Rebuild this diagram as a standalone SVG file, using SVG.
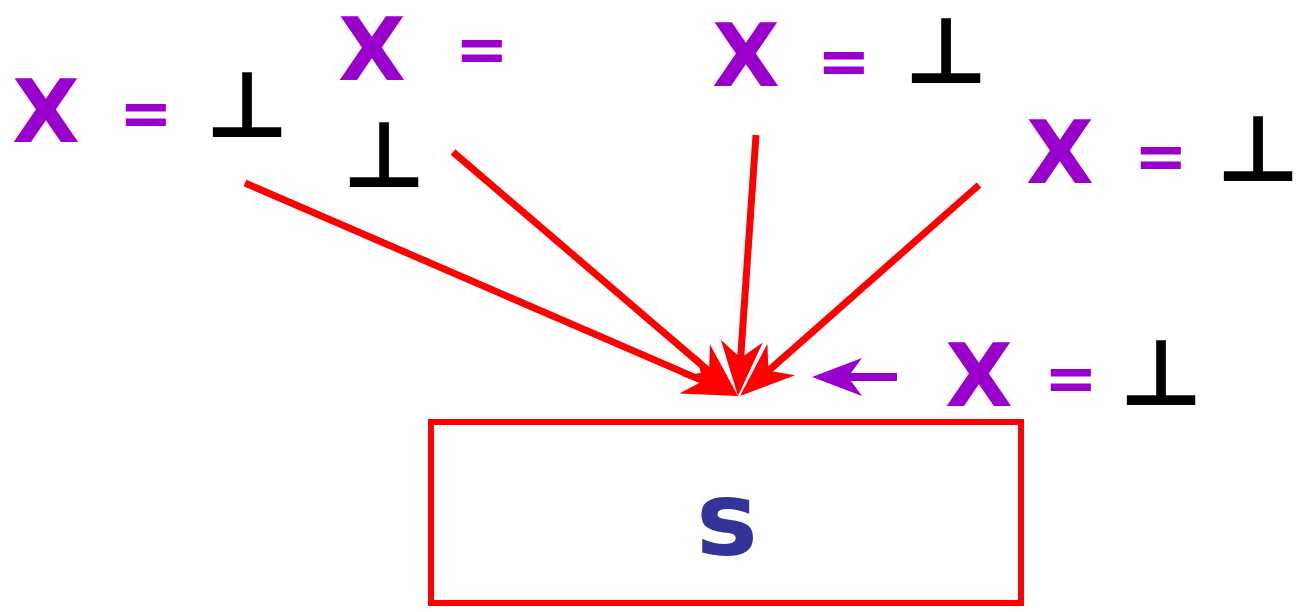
<svg xmlns="http://www.w3.org/2000/svg" width="1299" height="612" viewBox="0 0 1299 612">
<style>
.x{font-family:"DejaVu Sans",sans-serif;font-weight:bold;font-size:88px;fill:#9900cc}
.eq{font-family:"DejaVu Sans",sans-serif;font-weight:bold;font-size:64px;fill:#9900cc}
.b{font-family:"DejaVu Sans",sans-serif;font-weight:bold;font-size:92px;fill:#000}
.red{stroke:#ff0000;stroke-width:7;fill:none}
.pur{stroke:#9900cc;stroke-width:8;fill:none}
</style>
<defs>
<marker id="ah" markerUnits="userSpaceOnUse" orient="auto" viewBox="-30 -25 65 50" refX="0" refY="0" markerWidth="65" markerHeight="50">
<path d="M30,0 L-25,-21 L-8,0 L-25,21 Z" fill="#ff0000"/>
</marker>
<marker id="ap" markerUnits="userSpaceOnUse" orient="auto" viewBox="-30 -25 65 50" refX="0" refY="0" markerWidth="65" markerHeight="50">
<path d="M30,0 L-20,-19 L-6,0 L-20,19 Z" fill="#9900cc"/>
</marker>
</defs>
<g id="connectors">
<line class="red" x1="245" y1="183" x2="710.5" y2="384.1" marker-end="url(#ah)"/>
<line class="red" x1="453" y1="152" x2="715.2" y2="376.5" marker-end="url(#ah)"/>
<line class="red" x1="756" y1="135" x2="740.1" y2="366.1" marker-end="url(#ah)"/>
<line class="red" x1="979" y1="185" x2="762.5" y2="376.1" marker-end="url(#ah)"/>
<line class="pur" x1="897" y1="377" x2="842" y2="377" marker-end="url(#ap)"/>
</g>
<g id="label1">
<text class="x" x="12" y="142">X</text>
<text class="eq" x="119" y="135">=</text>
<text class="b" x="205" y="137">⊥</text>
</g>
<g id="label2">
<text class="x" x="338" y="80">X</text>
<text class="eq" x="455" y="71">=</text>
<text class="b" x="342" y="187">⊥</text>
</g>
<g id="label3">
<text class="x" x="712" y="86">X</text>
<text class="eq" x="817" y="83">=</text>
<text class="b" x="904" y="83">⊥</text>
</g>
<g id="label4">
<text class="x" x="1026" y="183">X</text>
<text class="eq" x="1134" y="178">=</text>
<text class="b" x="1216" y="181">⊥</text>
</g>
<g id="label5">
<text class="x" x="945" y="406">X</text>
<text class="eq" x="1044" y="400">=</text>
<text class="b" x="1119" y="405">⊥</text>
</g>
<g id="s">
<rect x="431" y="422" width="590" height="181" fill="none" stroke="#ff0000" stroke-width="6"/>
<text x="727" y="555" text-anchor="middle" font-family="DejaVu Sans,sans-serif" font-weight="bold" font-size="104" fill="#333399">s</text>
</g>
</svg>
